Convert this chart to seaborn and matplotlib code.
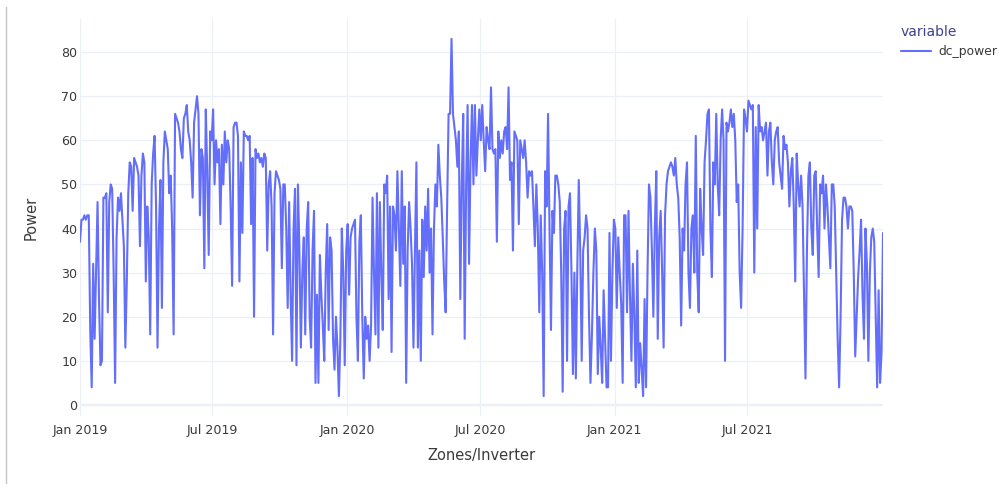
import numpy as np
import pandas as pd
import seaborn as sns
import matplotlib
matplotlib.use("Agg")
import matplotlib.pyplot as plt
import matplotlib.dates as mdates
from matplotlib.lines import Line2D

# Daily DC power readings, sampled every second day from 2019-01-01
start_date = "2019-01-01"
step = "2D"
dc_power = [
    # 2019
    37, 42, 42, 43, 42, 43, 43, 17, 4, 32, 15, 30, 46, 24, 9, 10, 47, 47, 48, 21,
    46, 50, 49, 30, 5, 38, 47, 44, 48, 42, 36, 13, 28, 48, 55, 54, 44, 56, 55, 54,
    52, 36, 52, 57, 55, 28, 45, 38, 16, 50, 57, 61, 45, 13, 40, 51, 22, 55, 62, 60,
    58, 48, 52, 40, 16, 66, 65, 64, 62, 58, 56, 65, 66, 68, 62, 60, 55, 47, 64, 67,
    70, 66, 43, 58, 56, 31, 67, 53, 34, 62, 60, 67, 50,
    60, 55, 58, 41, 59, 50, 62, 55, 60, 58, 45, 27, 63, 64, 64, 61, 28, 55, 39, 62,
    61, 61, 60, 61, 41, 56, 20, 58, 56, 57, 55, 56, 54, 57, 56, 35, 50, 53, 45, 16,
    48, 53, 52, 51, 49, 31, 50, 50, 40, 22, 46, 25, 10, 40, 49, 9, 50, 35, 13, 30,
    38, 16, 40, 46, 20, 13, 35, 44, 5, 25, 5, 34, 25, 18, 10, 30, 41, 17, 38, 35,
    15, 8, 20, 13, 2, 15, 40, 30, 9, 35, 41, 25,
    # 2020
    38, 40, 41, 42, 20, 10, 37, 43, 20, 6, 20, 15, 18, 10, 18, 47, 30, 16, 48, 13,
    46, 30, 17, 50, 48, 52, 24, 45, 12, 45, 43, 35, 53, 40, 27, 53, 32, 45, 5, 35,
    46, 40, 32, 13, 35, 55, 13, 35, 10, 42, 29, 45, 35, 49, 30, 40, 16, 40, 50, 45,
    59, 52, 47, 38, 28, 21, 45, 66, 66, 83, 66, 63, 60, 54, 62, 24, 50, 66, 15, 50,
    68, 32, 55, 68, 50, 68, 52, 60, 67, 60, 68, 60,
    53, 63, 60, 58, 72, 58, 57, 58, 37, 62, 56, 60, 57, 62, 63, 58, 72, 51, 55, 35,
    62, 61, 60, 41, 60, 58, 56, 60, 55, 47, 53, 52, 53, 45, 36, 50, 40, 21, 43, 30,
    2, 53, 45, 66, 40, 17, 44, 39, 52, 52, 50, 46, 30, 3, 40, 44, 10, 45, 48, 30,
    7, 30, 6, 31, 51, 35, 10, 35, 38, 43, 40, 20, 5, 16, 30, 40, 35, 7, 20, 13,
    5, 26, 15, 4, 4, 39, 10, 30, 42, 40, 22, 38, 30,
    # 2021
    23, 5, 43, 43, 21, 44, 25, 10, 32, 20, 4, 35, 5, 14, 8, 2, 24, 4, 30, 50,
    47, 35, 20, 40, 53, 15, 38, 44, 30, 13, 43, 50, 53, 54, 55, 54, 52, 56, 50, 47,
    38, 18, 40, 35, 50, 55, 30, 22, 40, 43, 30, 61, 30, 21, 49, 40, 34, 55, 60, 66,
    67, 40, 29, 55, 50, 66, 50, 43, 60, 67, 60, 10, 64, 62, 64, 67, 63, 66, 60, 46,
    50, 30, 22, 40, 67, 65,
    62, 69, 68, 67, 68, 30, 63, 40, 68, 62, 63, 60, 62, 64, 52, 62, 64, 55, 50, 60,
    62, 63, 55, 52, 49, 61, 58, 59, 55, 45, 53, 56, 45, 28, 57, 50, 45, 52, 45, 25,
    6, 35, 52, 55, 40, 34, 52, 53, 40, 29, 50, 48, 52, 40, 50, 45, 38, 31, 50, 50,
    45, 30, 15, 4, 20, 42, 47, 47, 45, 40, 45, 45, 44, 30, 11, 20, 29, 35, 42, 25,
    15, 40, 32, 10, 30, 38, 40, 37, 20, 4, 26, 5, 12, 39,
]

y_ticks = [0, 10, 20, 30, 40, 50, 60, 70, 80]
x_tick_dates = ["2019-01-01", "2019-07-01", "2020-01-01",
                "2020-07-01", "2021-01-01", "2021-07-01"]
x_tick_labels = ["Jan 2019", "Jul 2019", "Jan 2020",
                 "Jul 2020", "Jan 2021", "Jul 2021"]

df = pd.DataFrame({
    "date": pd.date_range(start_date, periods=len(dc_power), freq=step),
    "dc_power": dc_power,
})

sns.set_theme(style="white")
plt.rcParams["font.family"] = ["DejaVu Sans"]

LINE = "#636efa"
GRID = "#EBF0F8"
TEXT = "#3a3a3a"

fig = plt.figure(figsize=(10.01, 4.98), dpi=100)
ax = fig.add_axes([80 / 1001, 82 / 498, 803 / 1001, 397 / 498])

ax.axhline(0, color=GRID, lw=1.6, zorder=1)
sns.lineplot(data=df, x="date", y="dc_power", color=LINE, lw=1.5, ax=ax,
             zorder=3, label="dc_power", legend=False)

ax.set_xlim(df["date"].iloc[0], df["date"].iloc[-1])
ax.set_ylim(-2.5, 87.5)
ax.set_yticks(y_ticks)
ax.set_xticks(pd.to_datetime(x_tick_dates))
ax.set_xticklabels(x_tick_labels)
ax.grid(True, color=GRID, lw=0.9, zorder=0)
ax.set_axisbelow(True)
for s in ax.spines.values():
    s.set_visible(False)
ax.tick_params(axis="both", length=0, labelsize=9.1, labelcolor=TEXT)
ax.tick_params(axis="y", pad=2)
ax.tick_params(axis="x", pad=6)

ax.set_xlabel("Zones/Inverter", fontsize=10.5, color=TEXT, labelpad=8)
ax.set_ylabel("Power", fontsize=10.5, color=TEXT, labelpad=16)

handles = [Line2D([], [], color=LINE, lw=1.5)]
leg = fig.legend(handles, ["dc_power"], title="variable", loc="upper left",
                 bbox_to_anchor=(901 / 1001, 1 - 25 / 498), frameon=False,
                 borderaxespad=0, borderpad=0, handlelength=2.4,
                 handletextpad=0.6, alignment="left", fontsize=8.9,
                 title_fontsize=10)
leg.get_title().set_color("#3d4190")
for t in leg.get_texts():
    t.set_color(TEXT)

# thin frame edge on the left side of the canvas
fig.add_artist(Line2D([5.5 / 1001, 5.5 / 1001], [1 - 7 / 498, 1 - 483 / 498],
                      color="#c4c4c4", lw=1.0))

fig.savefig("out.png", dpi=100, facecolor="white")
